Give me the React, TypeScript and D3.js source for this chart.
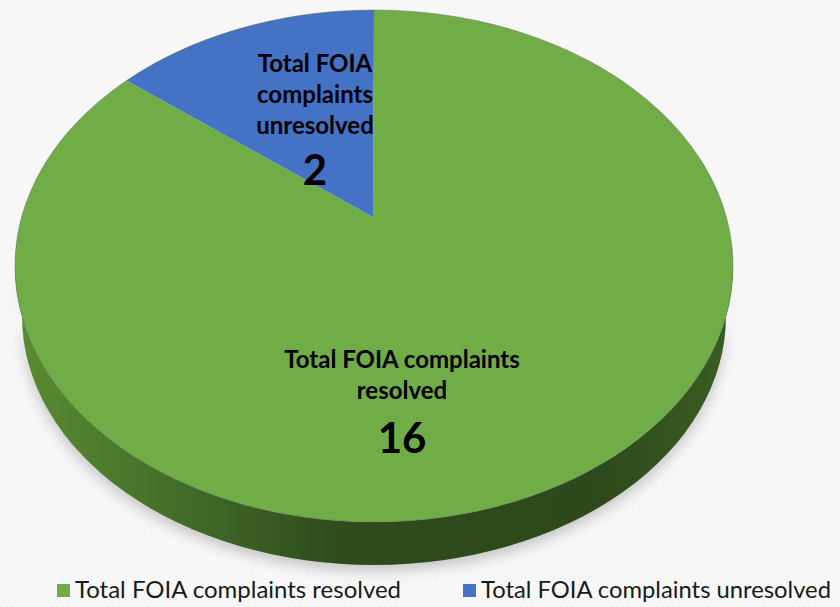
import * as d3 from "d3";

const categories = ["Total FOIA complaints resolved", "Total FOIA complaints unresolved"];
const values = [16, 2];
const colors = ["#70ad47", "#4472c4"];
// wrapped lines of the data labels, as they appear on the slices
const labelLines = [
	["Total FOIA complaints", "resolved"],
	["Total FOIA", "complaints", "unresolved"],
];

const W = 840;
const H = 607;

// top face of the 3D pie
const cx = 374;
const cy = 266;
const rx = 359;
const ry = 256;
// bottom face: a bit smaller and lower (perspective)
const bcy = 316;
const brx = 352;
const bry = 249;
// the pie's centre sits higher than the ellipse centre (perspective)
const hub: [number, number] = [373, 217];
const warp = 0.063;

const pt = (a: number): [number, number] => {
	const t = a + warp * Math.sin(2 * a);
	return [cx + rx * Math.sin(t), cy - ry * Math.cos(t)];
};

const App = () => {
	const pie = d3.pie<number>().sort(null).value((d) => d);
	const arcs = pie(values);

	const slicePath = (s: d3.PieArcDatum<number>) => {
		const [x0, y0] = pt(s.startAngle);
		const [x1, y1] = pt(s.endAngle);
		const large = s.endAngle - s.startAngle > Math.PI ? 1 : 0;
		const p = d3.path();
		p.moveTo(hub[0], hub[1]);
		p.lineTo(x0, y0);
		return `${p.toString()} A${rx},${ry} 0 ${large} 1 ${x1},${y1} Z`;
	};

	const side = `M${cx + rx},${cy} A${rx},${ry} 0 0 1 ${cx - rx},${cy} L${cx - brx},${bcy} A${brx},${bry} 0 0 0 ${cx + brx},${bcy} Z`;

	const labelPos: [number, number][] = [
		[402, 368],
		[315, 72],
	];
	const numberPos: [number, number][] = [
		[402, 453],
		[315, 185],
	];

	const legendX = [57, 463];
	const legendTextLen = [326, 350];

	return (
		<svg width={W} height={H} style={{display: "block", position: "absolute", left: 0, top: 0}}>
			<defs>
				<filter id="shadow" x="-10%" y="-10%" width="120%" height="130%">
					<feGaussianBlur stdDeviation="7" />
				</filter>
				<linearGradient id="sideGrad" x1="0" x2="1" y1="0" y2="0">
					<stop offset="0%" stopColor="#5a8c31" />
					<stop offset="15%" stopColor="#4a782c" />
					<stop offset="45%" stopColor="#2f4b1d" />
					<stop offset="80%" stopColor="#2d481b" />
					<stop offset="100%" stopColor="#3a5e22" />
				</linearGradient>
				<pattern id="bg" width="4" height="4" patternUnits="userSpaceOnUse" patternTransform="rotate(45)">
					<rect width="4" height="4" fill="#f9f9f9" />
					<line x1="0" y1="0" x2="0" y2="4" stroke="#eeeeee" strokeWidth="1" />
				</pattern>
			</defs>
			<rect width={W} height={H} fill="url(#bg)" />

			{/* soft shadow under the pie */}
			<path d={side} transform="translate(0,6)" fill="#9a9a9a" opacity={0.55} filter="url(#shadow)" />
			{/* front wall */}
			<path d={side} fill="url(#sideGrad)" />

			{arcs.map((s, i) => (
				<path key={categories[i]} d={slicePath(s)} fill={colors[i]} />
			))}
			<ellipse cx={cx} cy={cy} rx={rx} ry={ry} fill="none" stroke="#5c6b55" strokeWidth={0.8} opacity={0.6} />

			{arcs.map((s, i) => (
				<g key={"lbl" + i} fontFamily="Lato, 'Open Sans', sans-serif" fontWeight="bold" fill="#000" textAnchor="middle">
					{labelLines[i].map((line, j) => (
						<text key={j} x={labelPos[i][0]} y={labelPos[i][1] + j * 31} fontSize={24}>
							{line}
						</text>
					))}
					<text x={numberPos[i][0]} y={numberPos[i][1]} fontSize={42}>
						{s.data}
					</text>
				</g>
			))}

			{categories.map((c, i) => (
				<g key={"leg" + i}>
					<rect x={legendX[i]} y={584} width={13} height={13} fill={colors[i]} />
					<text
						x={legendX[i] + 18}
						y={598}
						fontFamily="Lato, 'Open Sans', sans-serif"
						fontSize={23}
						fill="#1a1a1a"
						textLength={legendTextLen[i]}
						lengthAdjust="spacingAndGlyphs"
					>
						{c}
					</text>
				</g>
			))}
		</svg>
	);
};

export default App;
